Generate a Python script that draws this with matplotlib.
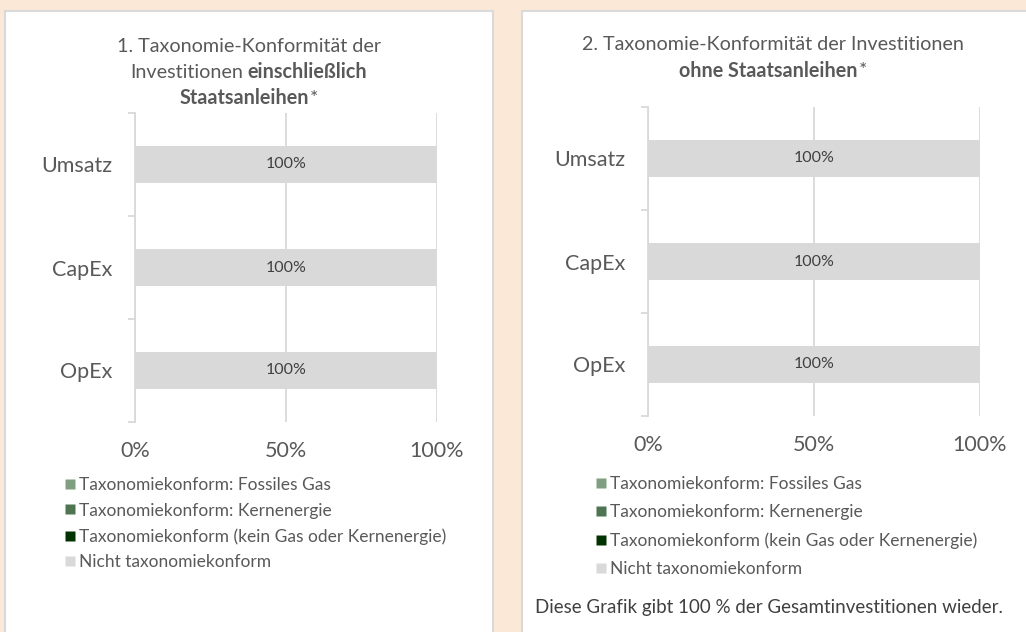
import matplotlib
matplotlib.use("Agg")
import matplotlib.pyplot as plt
from matplotlib.patches import Rectangle
from matplotlib.lines import Line2D
import numpy as np

plt.rcParams['font.family'] = ['Lato', 'DejaVu Sans']

categories = ["Umsatz", "CapEx", "OpEx"]
series_names = ["Taxonomiekonform: Fossiles Gas",
                "Taxonomiekonform: Kernenergie",
                "Taxonomiekonform (kein Gas oder Kernenergie)",
                "Nicht taxonomiekonform"]
colors = ["#7f9f80", "#4e7452", "#003300", "#d9d9d9"]

# shares in percent, chart 1 (incl. sovereign bonds)
gas_1 = [0, 0, 0]
nuclear_1 = [0, 0, 0]
aligned_1 = [0, 0, 0]
not_aligned_1 = [100, 100, 100]

# chart 2 (excl. sovereign bonds)
gas_2 = [0, 0, 0]
nuclear_2 = [0, 0, 0]
aligned_2 = [0, 0, 0]
not_aligned_2 = [100, 100, 100]

x_ticks = [0, 50, 100]
x_tick_labels = ["0%", "50%", "100%"]

W, H = 1026, 632
BG = "#fbe8d7"
GRID = "#d9d9d9"
TXT = "#595959"

fig = plt.figure(figsize=(W / 100, H / 100), dpi=100)
fig.patch.set_facecolor(BG)


def px_box(x0, y0, x1, y1):
    return [x0 / W, 1 - y1 / H, (x1 - x0) / W, (y1 - y0) / H]


# white panels
for x0, x1 in [(5, 493), (522, 1040)]:
    fig.patches.append(Rectangle((x0 / W, -0.05), (x1 - x0) / W, 1 - 11 / H + 0.05,
                                 transform=fig.transFigure, facecolor="white",
                                 edgecolor=GRID, linewidth=1.5, zorder=-5))


def draw_chart(rect, data):
    ax = fig.add_axes(px_box(*rect))
    ax.set_facecolor("none")
    y = np.arange(len(categories))
    left = np.zeros(len(categories))
    for vals, col in zip(data, colors):
        vals = np.array(vals, dtype=float)
        bars = ax.barh(y, vals, left=left, height=0.35, color=col, zorder=2)
        for b, v in zip(bars, vals):
            if v > 0:
                ax.text(b.get_x() + b.get_width() / 2, b.get_y() + b.get_height() / 2,
                        f"{v:.0f}%", ha="center", va="center", fontsize=11.5,
                        color="#404040", zorder=3)
        left += vals
    ax.set_xlim(0, 100)
    ax.set_ylim(len(categories) - 0.5, -0.5)
    ax.set_xticks(x_ticks)
    ax.set_xticklabels(x_tick_labels)
    ax.set_yticks(y)
    ax.set_yticklabels(categories)
    ax.set_yticks(np.arange(-0.5, len(categories)), minor=True)
    ax.tick_params(axis="x", length=0, pad=14, labelsize=15.5, labelcolor=TXT)
    ax.tick_params(axis="y", which="major", length=0, pad=16, labelsize=15.5, labelcolor=TXT)
    ax.tick_params(axis="y", which="minor", length=5, width=1.3, color=GRID)
    ax.grid(axis="x", color=GRID, linewidth=1.3, zorder=1)
    for s in ["top", "right", "bottom"]:
        ax.spines[s].set_visible(False)
    ax.spines["left"].set_color(GRID)
    ax.spines["left"].set_linewidth(1.3)
    return ax


ax1 = draw_chart((135, 113, 437, 422), [gas_1, nuclear_1, aligned_1, not_aligned_1])
ax2 = draw_chart((648, 107, 980, 416), [gas_2, nuclear_2, aligned_2, not_aligned_2])

renderer = fig.canvas.get_renderer()


def rich_line(xc, yc, parts, size=14.2, gap=4):
    # draw a line made of normal/bold pieces, centred on xc (pixel coords)
    items = []
    for s, w in parts:
        t = fig.text(0, 1 - yc / H, s, fontsize=size, fontweight=w, color=TXT,
                     ha="left", va="center")
        items.append(t)
    widths = [t.get_window_extent(renderer).width for t in items]
    total = sum(widths) + gap * (len(items) - 1)
    x = xc - total / 2
    for t, w in zip(items, widths):
        t.set_x(x / W)
        x += w + gap


rich_line(249, 46, [("1. Taxonomie-Konformität der", "normal")])
rich_line(249, 72, [("Investitionen", "normal"), ("einschließlich", "bold")])
rich_line(249, 98, [("Staatsanleihen", "bold"), ("*", "normal")], gap=1)

rich_line(773, 45, [("2. Taxonomie-Konformität der Investitionen", "normal")])
rich_line(773, 71, [("ohne Staatsanleihen", "bold"), ("*", "normal")], gap=1)

handles = [Line2D([], [], linestyle="none", marker="s", markersize=7.3,
                  markerfacecolor=c, markeredgecolor="none") for c in colors]
for x0, y0, spacing in [(63, 477, 0.55), (594, 476, 0.7)]:
    fig.legend(handles, series_names, loc="upper left",
               bbox_to_anchor=(x0 / W, 1 - y0 / H), frameon=False,
               fontsize=12.5, labelcolor=TXT, handlelength=0.75,
               handletextpad=0.15, labelspacing=spacing, borderpad=0, borderaxespad=0)

fig.text(769 / W, 1 - 607 / H, "Diese Grafik gibt 100 % der Gesamtinvestitionen wieder.",
         ha="center", va="center", fontsize=13.5, color="#404040")

fig.savefig("out.png", dpi=100, facecolor=BG)
